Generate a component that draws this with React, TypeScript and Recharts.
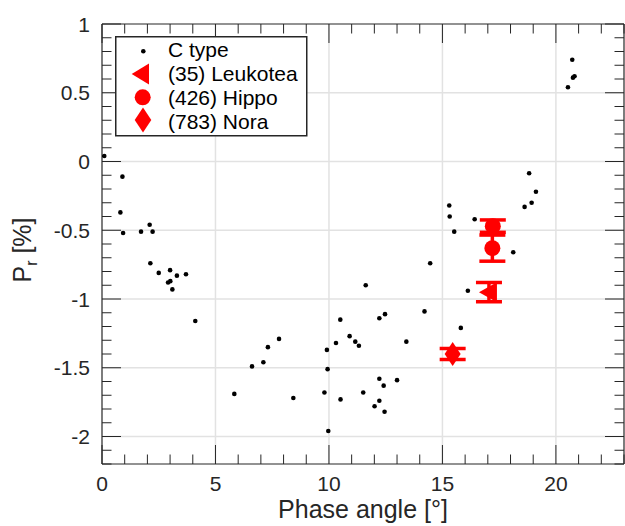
import { ScatterChart, Scatter, XAxis, YAxis, ErrorBar, ReferenceLine, Legend, Label } from "recharts"

// C-type asteroids (black dots)
const cTypePhase = [
  0.1, 0.9, 0.81, 0.93, 1.72, 2.1, 2.23, 2.13, 2.5, 3.0, 3.3, 3.7, 2.91, 3.01, 3.1, 4.11,
  5.83, 6.61, 7.11, 7.31, 7.8, 8.43, 9.8, 9.91, 9.94, 9.97, 10.31, 10.5, 10.51, 10.91,
  11.16, 11.32, 11.62, 12.22, 12.47, 11.51, 12.22, 12.41, 13.0, 12.01, 12.22, 12.45,
  13.41, 14.21, 14.46, 15.3, 15.32, 15.52, 16.42, 16.12, 15.81, 18.12, 18.62, 18.93,
  19.12, 18.82, 20.72, 20.75, 20.82, 20.53,
]
const cTypePol = [
  0.04, -0.11, -0.37, -0.52, -0.51, -0.46, -0.51, -0.74, -0.81, -0.79, -0.83, -0.82, -0.88, -0.87, -0.93, -1.16,
  -1.69, -1.49, -1.46, -1.35, -1.29, -1.72, -1.68, -1.37, -1.51, -1.96, -1.32, -1.15, -1.73, -1.27,
  -1.31, -1.34, -0.9, -1.14, -1.11, -1.68, -1.58, -1.63, -1.59, -1.78, -1.74, -1.82,
  -1.31, -1.09, -0.74, -0.32, -0.4, -0.51, -0.42, -0.94, -1.21, -0.66, -0.33, -0.3,
  -0.22, -0.085, 0.74, 0.61, 0.62, 0.54,
]

const leukoteaPhase = [17.05]
const leukoteaPol = [-0.95]
const leukoteaErr = [0.07]

const hippoPhase = [17.22, 17.2]
const hippoPol = [-0.47, -0.63]
const hippoErr = [0.045, 0.095]

const noraPhase = [15.45]
const noraPol = [-1.4]
const noraErr = [0.04]

const legendNames = ["C type", "(35) Leukotea", "(426) Hippo", "(783) Nora"]

const xTicks = [0, 1, 2, 3, 4, 5, 6, 7, 8, 9, 10, 11, 12, 13, 14, 15, 16, 17, 18, 19, 20, 21, 22, 23]
const xMajor = [0, 5, 10, 15, 20]
const yTicks = [
  -2.2, -2.1, -2.0, -1.9, -1.8, -1.7, -1.6, -1.5, -1.4, -1.3, -1.2, -1.1, -1.0, -0.9, -0.8, -0.7, -0.6,
  -0.5, -0.4, -0.3, -0.2, -0.1, 0, 0.1, 0.2, 0.3, 0.4, 0.5, 0.6, 0.7, 0.8, 0.9, 1.0,
]
const yMajor = [-2, -1.5, -1, -0.5, 0, 0.5, 1]
const xGrid = [5, 10, 15, 20]
const yGrid = [-2, -1.5, -1, -0.5, 0, 0.5]

const toPoints = (xs: number[], ys: number[], errs?: number[]) =>
  xs.map((x, i) => ({ x, y: ys[i], err: errs ? errs[i] : 0 }))

const cTypeData = toPoints(cTypePhase, cTypePol)
const leukoteaData = toPoints(leukoteaPhase, leukoteaPol, leukoteaErr)
const hippoData = toPoints(hippoPhase, hippoPol, hippoErr)
const noraData = toPoints(noraPhase, noraPol, noraErr)

const W = 625
const H = 526
const MARGIN = { top: 24, right: 1, bottom: 0, left: 0 }
const Y_AXIS_W = 102
const X_AXIS_H = 62
const PLOT_W = W - MARGIN.left - MARGIN.right - Y_AXIS_W
const PLOT_H = H - MARGIN.top - MARGIN.bottom - X_AXIS_H

const FONT = '"Liberation Sans", Arial, Helvetica, sans-serif'
const AXIS = "#262626"
const RED = "#ff0000"
const GRID = "#e2e2e2"

function XTick(props: any) {
  const { x, y, payload } = props
  const major = xMajor.includes(payload.value)
  const len = major ? 19 : 9.5
  return (
    <g>
      <line x1={x} y1={y} x2={x} y2={y - len} stroke={AXIS} strokeWidth={1} />
      <line x1={x} y1={y - PLOT_H} x2={x} y2={y - PLOT_H + len} stroke={AXIS} strokeWidth={1} />
      {major && (
        <text x={x} y={y + 27} textAnchor="middle" fontFamily={FONT} fontSize={21} fill={AXIS}>
          {payload.value}
        </text>
      )}
    </g>
  )
}

function YTick(props: any) {
  const { x, y, payload } = props
  const major = yMajor.includes(payload.value)
  const len = major ? 19 : 9.5
  return (
    <g>
      <line x1={x} y1={y} x2={x + len} y2={y} stroke={AXIS} strokeWidth={1} />
      <line x1={x + PLOT_W} y1={y} x2={x + PLOT_W - len} y2={y} stroke={AXIS} strokeWidth={1} />
      {major && (
        <text x={x - 12} y={y} dy="0.36em" textAnchor="end" fontFamily={FONT} fontSize={21} fill={AXIS}>
          {payload.value}
        </text>
      )}
    </g>
  )
}

function XLabel(props: any) {
  const { x, y, width } = props.viewBox
  return (
    <text x={x + width / 2} y={y + 54} textAnchor="middle" fontFamily={FONT} fontSize={25} fill={AXIS}>
      Phase angle [°]
    </text>
  )
}

function YLabel(props: any) {
  const { x, y, height } = props.viewBox
  const cx = x + 31
  const cy = y + height / 2 + 6
  return (
    <text
      x={cx}
      y={cy}
      transform={`rotate(-90 ${cx} ${cy})`}
      textAnchor="middle"
      fontFamily={FONT}
      fontSize={25}
      fill={AXIS}
    >
      <tspan>P</tspan>
      <tspan dy={6} fontSize={16}>r</tspan>
      <tspan dy={-6}> [%]</tspan>
    </text>
  )
}

const dotShape = (p: any) => <circle cx={p.cx} cy={p.cy} r={2.3} fill="#000" />
const triangleShape = (p: any) => (
  <polygon
    points={`${p.cx - 10},${p.cy} ${p.cx + 8},${p.cy - 10} ${p.cx + 8},${p.cy + 10}`}
    fill={RED}
  />
)
const circleShape = (p: any) => <circle cx={p.cx} cy={p.cy} r={8} fill={RED} />
const diamondShape = (p: any) => (
  <polygon
    points={`${p.cx},${p.cy - 12} ${p.cx + 8},${p.cy} ${p.cx},${p.cy + 12} ${p.cx - 8},${p.cy}`}
    fill={RED}
  />
)

function LegendBox() {
  const tx = 53
  return (
    <svg width={193} height={101} style={{ display: "block" }}>
      <rect x={0.75} y={0.75} width={191} height={99} fill="#fff" stroke={AXIS} strokeWidth={1.5} />
      <circle cx={28.3} cy={15.3} r={2.3} fill="#000" />
      <polygon points="16.7,38 34,27.5 34,48.5" fill={RED} />
      <circle cx={27.7} cy={61.3} r={8} fill={RED} />
      <polygon points="28,71.5 36.3,84 28,96.5 19.7,84" fill={RED} />
      {legendNames.map((name, i) => (
        <text key={name} x={tx} y={20.5 + i * 24} fontFamily={FONT} fontSize={21} fill="#000">
          {name}
        </text>
      ))}
    </svg>
  )
}

export default function App() {
  return (
    <div style={{ position: "absolute", left: 0, top: 0, width: W, height: H, background: "#fff" }}>
      <ScatterChart width={W} height={H} margin={MARGIN}>
        {xGrid.map((v) => (
          <ReferenceLine key={`gx${v}`} x={v} stroke={GRID} strokeWidth={1.5} />
        ))}
        {yGrid.map((v) => (
          <ReferenceLine key={`gy${v}`} y={v} stroke={GRID} strokeWidth={1.5} />
        ))}
        <ReferenceLine x={23} stroke={AXIS} strokeWidth={1.2} />
        <ReferenceLine y={1} stroke={AXIS} strokeWidth={1.2} />
        <XAxis
          type="number"
          dataKey="x"
          domain={[0, 23]}
          ticks={xTicks}
          interval={0}
          height={X_AXIS_H}
          tickSize={0}
          tickMargin={0}
          tickLine={false}
          tick={XTick}
          axisLine={{ stroke: AXIS, strokeWidth: 1.2 }}
          allowDataOverflow
        >
          <Label content={XLabel} />
        </XAxis>
        <YAxis
          type="number"
          dataKey="y"
          domain={[-2.2, 1]}
          ticks={yTicks}
          interval={0}
          width={Y_AXIS_W}
          tickSize={0}
          tickMargin={0}
          tickLine={false}
          tick={YTick}
          axisLine={{ stroke: AXIS, strokeWidth: 1.2 }}
          allowDataOverflow
        >
          <Label content={YLabel} />
        </YAxis>
        <Scatter name={legendNames[0]} data={cTypeData} shape={dotShape} isAnimationActive={false} />
        <Scatter name={legendNames[1]} data={leukoteaData} shape={triangleShape} isAnimationActive={false}>
          <ErrorBar dataKey="err" direction="y" width={13} stroke={RED} strokeWidth={3.5} isAnimationActive={false} />
        </Scatter>
        <Scatter name={legendNames[2]} data={hippoData} shape={circleShape} isAnimationActive={false}>
          <ErrorBar dataKey="err" direction="y" width={13} stroke={RED} strokeWidth={3.5} isAnimationActive={false} />
        </Scatter>
        <Scatter name={legendNames[3]} data={noraData} shape={diamondShape} isAnimationActive={false}>
          <ErrorBar dataKey="err" direction="y" width={13} stroke={RED} strokeWidth={3.5} isAnimationActive={false} />
        </Scatter>
        <Legend
          layout="vertical"
          align="center"
          verticalAlign="middle"
          content={() => <LegendBox />}
          wrapperStyle={{ left: 115, top: 36, width: 193, height: 101 }}
        />
      </ScatterChart>
    </div>
  )
}
